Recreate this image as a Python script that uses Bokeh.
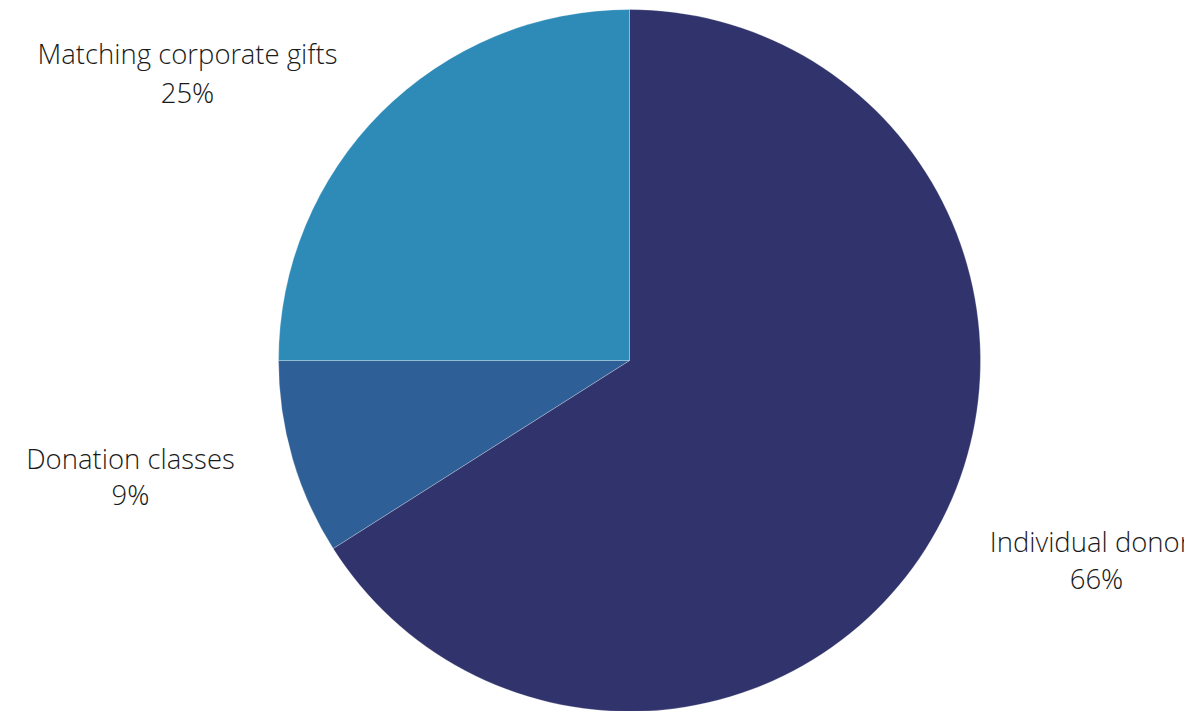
from math import pi
from bokeh.plotting import figure
from bokeh.models import Range1d, ColumnDataSource
from bokeh.core.properties import value
from bokeh.embed import file_html
from bokeh.resources import INLINE

categories = ["Individual donors", "Donation classes", "Matching corporate gifts"]
shares = [66, 9, 25]
colors = ["#31346C", "#2E5F96", "#2E8BB8"]

W, H = 1184, 711
cx, cy, r = 629, H - 360, 351

total = sum(shares)
starts, ends = [], []
cum = 0
for s in shares:
    a0 = pi / 2 - 2 * pi * cum / total
    cum += s
    a1 = pi / 2 - 2 * pi * cum / total
    starts.append(a0)
    ends.append(a1)

src = ColumnDataSource(dict(cat=categories, val=shares, color=colors,
                            start=starts, end=ends,
                            x=[cx] * 3, y=[cy] * 3))

p = figure(width=W, height=H, output_backend="svg", toolbar_location=None,
           x_range=Range1d(0, W), y_range=Range1d(0, H), min_border=0)
p.axis.visible = False
p.grid.visible = False
p.outline_line_color = None
p.background_fill_color = "white"

p.wedge(x="x", y="y", radius=r, start_angle="start", end_angle="end",
        direction="clock", fill_color="color", line_color="#ffffff",
        line_alpha=0.25, line_width=1, source=src)

# label positions (layout)
lab_x = [1096, 130, 187]
lab_y1 = [H - 541, H - 458, H - 53]
lab_y2 = [H - 578, H - 494, H - 92]
pct = [f"{v}%" for v in shares]

font = value("'Open Sans Light', 'Open Sans'")
p.text(x=lab_x, y=lab_y1, text=categories, text_font=font,
       text_font_size="27.5px", text_color="#1a1a1a", text_align="center",
       text_baseline="middle")
p.text(x=lab_x, y=lab_y2, text=pct, text_font=font,
       text_font_size="27.5px", text_color="#1a1a1a", text_align="center",
       text_baseline="middle")

open("out.html", "w").write(file_html(p, INLINE))
